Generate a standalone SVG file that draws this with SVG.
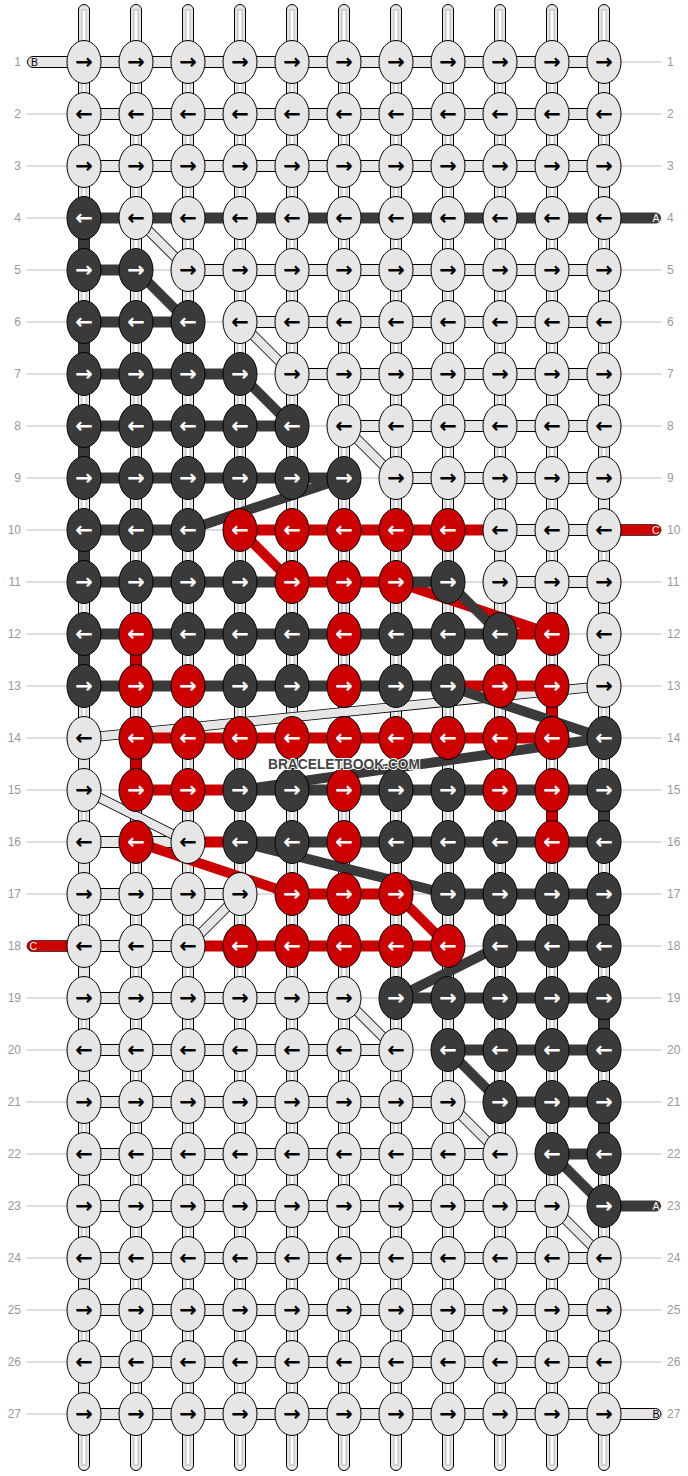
<svg xmlns="http://www.w3.org/2000/svg" width="688" height="1476" viewBox="0 0 688 1476">
<style>
.g{stroke:#bbb;stroke-width:1;fill:none}
.w{fill:#e6e6e6;stroke:#000;stroke-width:1}
.wi{fill:#fff;stroke:#aaa;stroke-width:0.8}
.bl{fill:#e6e6e6;stroke:#000;stroke-width:1}
.bd{fill:#3a3a3a}
.br{fill:#cc0000}
.dlo{stroke:#000;stroke-width:10;fill:none}
.dli{stroke:#e6e6e6;stroke-width:8.4;fill:none}
.dd{stroke:#3a3a3a;stroke-width:10;fill:none}
.dr{stroke:#cc0000;stroke-width:10;fill:none}
.kl{fill:#e6e6e6;stroke:#000;stroke-width:1}
.kd{fill:#3a3a3a;stroke:#000;stroke-width:1}
.kr{fill:#cc0000;stroke:#000;stroke-width:1}
.ab,.aw{font-family:"DejaVu Sans",sans-serif;font-size:21px;font-weight:bold;text-anchor:middle;dominant-baseline:central}
.ab{fill:#000}.aw{fill:#fff}
.nl,.nr{font-family:"Liberation Sans",Arial,sans-serif;font-size:12px;fill:#999}
.nl{text-anchor:end}.nr{text-anchor:start}
.lt{font-family:"Liberation Sans",Arial,sans-serif;font-size:10.5px}
.wm{font-family:"Liberation Sans",Arial,sans-serif;font-size:14.5px;font-weight:bold;fill:#444;stroke:#fff;stroke-width:2;paint-order:stroke;text-anchor:middle}
</style>
<defs>
<g id="Lr"><ellipse rx="17" ry="21.5" class="kl"/><text class="ab">→</text></g>
<g id="Ll"><ellipse rx="17" ry="21.5" class="kl"/><text class="ab">←</text></g>
<g id="Dr"><ellipse rx="17" ry="21.5" class="kd"/><text class="aw">→</text></g>
<g id="Dl"><ellipse rx="17" ry="21.5" class="kd"/><text class="aw">←</text></g>
<g id="Rr"><ellipse rx="17" ry="21.5" class="kr"/><text class="aw">→</text></g>
<g id="Rl"><ellipse rx="17" ry="21.5" class="kr"/><text class="aw">←</text></g>
</defs>
<rect width="688" height="1476" fill="#fff"/>
<g id="guides">
<path class="g" d="M26 62H662M26 114H662M26 166H662M26 218H662M26 270H662M26 322H662M26 374H662M26 426H662M26 478H662M26 530H662M26 582H662M26 634H662M26 686H662M26 738H662M26 790H662M26 842H662M26 894H662M26 946H662M26 998H662M26 1050H662M26 1102H662M26 1154H662M26 1206H662M26 1258H662M26 1310H662M26 1362H662M26 1414H662"/>
</g>
<g id="warps">
<rect class="w" x="78.5" y="4.5" width="11" height="1466" rx="5.5"/><rect class="wi" x="82" y="10" width="4" height="1455"/>
<rect class="w" x="130.5" y="4.5" width="11" height="1466" rx="5.5"/><rect class="wi" x="134" y="10" width="4" height="1455"/>
<rect class="w" x="182.5" y="4.5" width="11" height="1466" rx="5.5"/><rect class="wi" x="186" y="10" width="4" height="1455"/>
<rect class="w" x="234.5" y="4.5" width="11" height="1466" rx="5.5"/><rect class="wi" x="238" y="10" width="4" height="1455"/>
<rect class="w" x="286.5" y="4.5" width="11" height="1466" rx="5.5"/><rect class="wi" x="290" y="10" width="4" height="1455"/>
<rect class="w" x="338.5" y="4.5" width="11" height="1466" rx="5.5"/><rect class="wi" x="342" y="10" width="4" height="1455"/>
<rect class="w" x="390.5" y="4.5" width="11" height="1466" rx="5.5"/><rect class="wi" x="394" y="10" width="4" height="1455"/>
<rect class="w" x="442.5" y="4.5" width="11" height="1466" rx="5.5"/><rect class="wi" x="446" y="10" width="4" height="1455"/>
<rect class="w" x="494.5" y="4.5" width="11" height="1466" rx="5.5"/><rect class="wi" x="498" y="10" width="4" height="1455"/>
<rect class="w" x="546.5" y="4.5" width="11" height="1466" rx="5.5"/><rect class="wi" x="550" y="10" width="4" height="1455"/>
<rect class="w" x="598.5" y="4.5" width="11" height="1466" rx="5.5"/><rect class="wi" x="602" y="10" width="4" height="1455"/>
</g>
<g id="connectors">
<rect class="bl" x="27.5" y="56.5" width="50" height="11" rx="5.5"/>
<rect class="br" x="27" y="940.5" width="50" height="11" rx="5.5" stroke="#000" stroke-width="0.6"/>
<rect class="bd" x="610" y="212.5" width="51" height="11" rx="5.5"/>
<rect class="br" x="610" y="524.5" width="51" height="11" rx="5.5" stroke="#000" stroke-width="0.6"/>
<rect class="bd" x="610" y="1200.5" width="51" height="11" rx="5.5"/>
<rect class="bl" x="610" y="1408.5" width="51" height="11" rx="5.5"/>
<rect class="bl" x="84" y="56.5" width="520" height="11"/>
<rect class="bl" x="84" y="108.5" width="520" height="11"/>
<rect class="bl" x="84" y="160.5" width="520" height="11"/>
<rect class="bl" x="188" y="264.5" width="416" height="11"/>
<rect class="bl" x="240" y="316.5" width="364" height="11"/>
<rect class="bl" x="292" y="368.5" width="312" height="11"/>
<rect class="bl" x="344" y="420.5" width="260" height="11"/>
<rect class="bl" x="396" y="472.5" width="208" height="11"/>
<rect class="bl" x="500" y="524.5" width="104" height="11"/>
<rect class="bl" x="500" y="576.5" width="104" height="11"/>
<rect class="bl" x="84" y="836.5" width="104" height="11"/>
<rect class="bl" x="84" y="888.5" width="156" height="11"/>
<rect class="bl" x="84" y="940.5" width="104" height="11"/>
<rect class="bl" x="84" y="992.5" width="260" height="11"/>
<rect class="bl" x="84" y="1044.5" width="312" height="11"/>
<rect class="bl" x="84" y="1096.5" width="364" height="11"/>
<rect class="bl" x="84" y="1148.5" width="416" height="11"/>
<rect class="bl" x="84" y="1200.5" width="468" height="11"/>
<rect class="bl" x="84" y="1252.5" width="520" height="11"/>
<rect class="bl" x="84" y="1304.5" width="520" height="11"/>
<rect class="bl" x="84" y="1356.5" width="520" height="11"/>
<rect class="bl" x="84" y="1408.5" width="520" height="11"/>
<rect class="bl" x="598.5" y="62" width="11" height="52"/>
<rect class="bl" x="598.5" y="166" width="11" height="52"/>
<rect class="bl" x="598.5" y="270" width="11" height="52"/>
<rect class="bl" x="598.5" y="374" width="11" height="52"/>
<rect class="bl" x="598.5" y="478" width="11" height="52"/>
<rect class="bl" x="598.5" y="582" width="11" height="104"/>
<rect class="bl" x="598.5" y="1310" width="11" height="52"/>
<rect class="bl" x="494.5" y="530" width="11" height="52"/>
<rect class="bl" x="78.5" y="114" width="11" height="52"/>
<rect class="bl" x="78.5" y="738" width="11" height="52"/>
<rect class="bl" x="78.5" y="842" width="11" height="52"/>
<rect class="bl" x="78.5" y="946" width="11" height="52"/>
<rect class="bl" x="78.5" y="1050" width="11" height="52"/>
<rect class="bl" x="78.5" y="1154" width="11" height="52"/>
<rect class="bl" x="78.5" y="1258" width="11" height="52"/>
<rect class="bl" x="78.5" y="1362" width="11" height="52"/>
<path class="dlo" d="M136 218L188 270M240 322L292 374M344 426L396 478M604 686L84 738M84 790L188 842M240 894L188 946M344 998L396 1050M448 1102L500 1154M552 1206L604 1258"/>
<path class="dli" d="M136 218L188 270M240 322L292 374M344 426L396 478M604 686L84 738M84 790L188 842M240 894L188 946M344 998L396 1050M448 1102L500 1154M552 1206L604 1258"/>
<rect class="br" x="240" y="524.5" width="260" height="11"/>
<rect class="br" x="292" y="576.5" width="104" height="11"/>
<rect class="br" x="500" y="628.5" width="52" height="11"/>
<rect class="br" x="448" y="680.5" width="104" height="11"/>
<rect class="br" x="136" y="732.5" width="416" height="11"/>
<rect class="br" x="136" y="784.5" width="104" height="11"/>
<rect class="br" x="188" y="836.5" width="52" height="11"/>
<rect class="br" x="292" y="888.5" width="104" height="11"/>
<rect class="br" x="188" y="940.5" width="260" height="11"/>
<rect class="br" x="130.5" y="634" width="11" height="52"/>
<rect class="br" x="130.5" y="738" width="11" height="52"/>
<rect class="br" x="546.5" y="686" width="11" height="52"/>
<rect class="br" x="546.5" y="790" width="11" height="52"/>
<path class="dr" d="M240 530L292 582M396 582L552 634M136 842L292 894M396 894L448 946"/>
<rect class="bd" x="84" y="212.5" width="520" height="11"/>
<rect class="bd" x="84" y="264.5" width="52" height="11"/>
<rect class="bd" x="84" y="316.5" width="104" height="11"/>
<rect class="bd" x="84" y="368.5" width="156" height="11"/>
<rect class="bd" x="84" y="420.5" width="208" height="11"/>
<rect class="bd" x="84" y="472.5" width="260" height="11"/>
<rect class="bd" x="84" y="524.5" width="104" height="11"/>
<rect class="bd" x="84" y="576.5" width="208" height="11"/>
<rect class="bd" x="396" y="576.5" width="52" height="11"/>
<rect class="bd" x="84" y="628.5" width="416" height="11"/>
<rect class="bd" x="84" y="680.5" width="364" height="11"/>
<rect class="bd" x="240" y="784.5" width="364" height="11"/>
<rect class="bd" x="240" y="836.5" width="364" height="11"/>
<rect class="bd" x="448" y="888.5" width="156" height="11"/>
<rect class="bd" x="500" y="940.5" width="104" height="11"/>
<rect class="bd" x="396" y="992.5" width="208" height="11"/>
<rect class="bd" x="448" y="1044.5" width="156" height="11"/>
<rect class="bd" x="500" y="1096.5" width="104" height="11"/>
<rect class="bd" x="552" y="1148.5" width="52" height="11"/>
<rect class="bd" x="78.5" y="218" width="11" height="52"/>
<rect class="bd" x="78.5" y="322" width="11" height="52"/>
<rect class="bd" x="78.5" y="426" width="11" height="52"/>
<rect class="bd" x="78.5" y="530" width="11" height="52"/>
<rect class="bd" x="78.5" y="634" width="11" height="52"/>
<rect class="bd" x="598.5" y="790" width="11" height="52"/>
<rect class="bd" x="598.5" y="894" width="11" height="52"/>
<rect class="bd" x="598.5" y="998" width="11" height="52"/>
<rect class="bd" x="598.5" y="1102" width="11" height="52"/>
<path class="dd" d="M136 270L188 322M240 374L292 426M344 478L188 530M448 582L500 634M448 686L604 738M604 738L240 790M240 842L448 894M500 946L396 998M448 1050L500 1102M552 1154L604 1206"/>
</g>
<g id="knots">
<g id="row1">
<use id="k1-1" href="#Lr" x="84" y="62"/><use id="k1-2" href="#Lr" x="136" y="62"/><use id="k1-3" href="#Lr" x="188" y="62"/><use id="k1-4" href="#Lr" x="240" y="62"/><use id="k1-5" href="#Lr" x="292" y="62"/><use id="k1-6" href="#Lr" x="344" y="62"/><use id="k1-7" href="#Lr" x="396" y="62"/><use id="k1-8" href="#Lr" x="448" y="62"/><use id="k1-9" href="#Lr" x="500" y="62"/><use id="k1-10" href="#Lr" x="552" y="62"/><use id="k1-11" href="#Lr" x="604" y="62"/>
</g>
<g id="row2">
<use id="k2-1" href="#Ll" x="84" y="114"/><use id="k2-2" href="#Ll" x="136" y="114"/><use id="k2-3" href="#Ll" x="188" y="114"/><use id="k2-4" href="#Ll" x="240" y="114"/><use id="k2-5" href="#Ll" x="292" y="114"/><use id="k2-6" href="#Ll" x="344" y="114"/><use id="k2-7" href="#Ll" x="396" y="114"/><use id="k2-8" href="#Ll" x="448" y="114"/><use id="k2-9" href="#Ll" x="500" y="114"/><use id="k2-10" href="#Ll" x="552" y="114"/><use id="k2-11" href="#Ll" x="604" y="114"/>
</g>
<g id="row3">
<use id="k3-1" href="#Lr" x="84" y="166"/><use id="k3-2" href="#Lr" x="136" y="166"/><use id="k3-3" href="#Lr" x="188" y="166"/><use id="k3-4" href="#Lr" x="240" y="166"/><use id="k3-5" href="#Lr" x="292" y="166"/><use id="k3-6" href="#Lr" x="344" y="166"/><use id="k3-7" href="#Lr" x="396" y="166"/><use id="k3-8" href="#Lr" x="448" y="166"/><use id="k3-9" href="#Lr" x="500" y="166"/><use id="k3-10" href="#Lr" x="552" y="166"/><use id="k3-11" href="#Lr" x="604" y="166"/>
</g>
<g id="row4">
<use id="k4-1" href="#Dl" x="84" y="218"/><use id="k4-2" href="#Ll" x="136" y="218"/><use id="k4-3" href="#Ll" x="188" y="218"/><use id="k4-4" href="#Ll" x="240" y="218"/><use id="k4-5" href="#Ll" x="292" y="218"/><use id="k4-6" href="#Ll" x="344" y="218"/><use id="k4-7" href="#Ll" x="396" y="218"/><use id="k4-8" href="#Ll" x="448" y="218"/><use id="k4-9" href="#Ll" x="500" y="218"/><use id="k4-10" href="#Ll" x="552" y="218"/><use id="k4-11" href="#Ll" x="604" y="218"/>
</g>
<g id="row5">
<use id="k5-1" href="#Dr" x="84" y="270"/><use id="k5-2" href="#Dr" x="136" y="270"/><use id="k5-3" href="#Lr" x="188" y="270"/><use id="k5-4" href="#Lr" x="240" y="270"/><use id="k5-5" href="#Lr" x="292" y="270"/><use id="k5-6" href="#Lr" x="344" y="270"/><use id="k5-7" href="#Lr" x="396" y="270"/><use id="k5-8" href="#Lr" x="448" y="270"/><use id="k5-9" href="#Lr" x="500" y="270"/><use id="k5-10" href="#Lr" x="552" y="270"/><use id="k5-11" href="#Lr" x="604" y="270"/>
</g>
<g id="row6">
<use id="k6-1" href="#Dl" x="84" y="322"/><use id="k6-2" href="#Dl" x="136" y="322"/><use id="k6-3" href="#Dl" x="188" y="322"/><use id="k6-4" href="#Ll" x="240" y="322"/><use id="k6-5" href="#Ll" x="292" y="322"/><use id="k6-6" href="#Ll" x="344" y="322"/><use id="k6-7" href="#Ll" x="396" y="322"/><use id="k6-8" href="#Ll" x="448" y="322"/><use id="k6-9" href="#Ll" x="500" y="322"/><use id="k6-10" href="#Ll" x="552" y="322"/><use id="k6-11" href="#Ll" x="604" y="322"/>
</g>
<g id="row7">
<use id="k7-1" href="#Dr" x="84" y="374"/><use id="k7-2" href="#Dr" x="136" y="374"/><use id="k7-3" href="#Dr" x="188" y="374"/><use id="k7-4" href="#Dr" x="240" y="374"/><use id="k7-5" href="#Lr" x="292" y="374"/><use id="k7-6" href="#Lr" x="344" y="374"/><use id="k7-7" href="#Lr" x="396" y="374"/><use id="k7-8" href="#Lr" x="448" y="374"/><use id="k7-9" href="#Lr" x="500" y="374"/><use id="k7-10" href="#Lr" x="552" y="374"/><use id="k7-11" href="#Lr" x="604" y="374"/>
</g>
<g id="row8">
<use id="k8-1" href="#Dl" x="84" y="426"/><use id="k8-2" href="#Dl" x="136" y="426"/><use id="k8-3" href="#Dl" x="188" y="426"/><use id="k8-4" href="#Dl" x="240" y="426"/><use id="k8-5" href="#Dl" x="292" y="426"/><use id="k8-6" href="#Ll" x="344" y="426"/><use id="k8-7" href="#Ll" x="396" y="426"/><use id="k8-8" href="#Ll" x="448" y="426"/><use id="k8-9" href="#Ll" x="500" y="426"/><use id="k8-10" href="#Ll" x="552" y="426"/><use id="k8-11" href="#Ll" x="604" y="426"/>
</g>
<g id="row9">
<use id="k9-1" href="#Dr" x="84" y="478"/><use id="k9-2" href="#Dr" x="136" y="478"/><use id="k9-3" href="#Dr" x="188" y="478"/><use id="k9-4" href="#Dr" x="240" y="478"/><use id="k9-5" href="#Dr" x="292" y="478"/><use id="k9-6" href="#Dr" x="344" y="478"/><use id="k9-7" href="#Lr" x="396" y="478"/><use id="k9-8" href="#Lr" x="448" y="478"/><use id="k9-9" href="#Lr" x="500" y="478"/><use id="k9-10" href="#Lr" x="552" y="478"/><use id="k9-11" href="#Lr" x="604" y="478"/>
</g>
<g id="row10">
<use id="k10-1" href="#Dl" x="84" y="530"/><use id="k10-2" href="#Dl" x="136" y="530"/><use id="k10-3" href="#Dl" x="188" y="530"/><use id="k10-4" href="#Rl" x="240" y="530"/><use id="k10-5" href="#Rl" x="292" y="530"/><use id="k10-6" href="#Rl" x="344" y="530"/><use id="k10-7" href="#Rl" x="396" y="530"/><use id="k10-8" href="#Rl" x="448" y="530"/><use id="k10-9" href="#Ll" x="500" y="530"/><use id="k10-10" href="#Ll" x="552" y="530"/><use id="k10-11" href="#Ll" x="604" y="530"/>
</g>
<g id="row11">
<use id="k11-1" href="#Dr" x="84" y="582"/><use id="k11-2" href="#Dr" x="136" y="582"/><use id="k11-3" href="#Dr" x="188" y="582"/><use id="k11-4" href="#Dr" x="240" y="582"/><use id="k11-5" href="#Rr" x="292" y="582"/><use id="k11-6" href="#Rr" x="344" y="582"/><use id="k11-7" href="#Rr" x="396" y="582"/><use id="k11-8" href="#Dr" x="448" y="582"/><use id="k11-9" href="#Lr" x="500" y="582"/><use id="k11-10" href="#Lr" x="552" y="582"/><use id="k11-11" href="#Lr" x="604" y="582"/>
</g>
<g id="row12">
<use id="k12-1" href="#Dl" x="84" y="634"/><use id="k12-2" href="#Rl" x="136" y="634"/><use id="k12-3" href="#Dl" x="188" y="634"/><use id="k12-4" href="#Dl" x="240" y="634"/><use id="k12-5" href="#Dl" x="292" y="634"/><use id="k12-6" href="#Rl" x="344" y="634"/><use id="k12-7" href="#Dl" x="396" y="634"/><use id="k12-8" href="#Dl" x="448" y="634"/><use id="k12-9" href="#Dl" x="500" y="634"/><use id="k12-10" href="#Rl" x="552" y="634"/><use id="k12-11" href="#Ll" x="604" y="634"/>
</g>
<g id="row13">
<use id="k13-1" href="#Dr" x="84" y="686"/><use id="k13-2" href="#Rr" x="136" y="686"/><use id="k13-3" href="#Rr" x="188" y="686"/><use id="k13-4" href="#Dr" x="240" y="686"/><use id="k13-5" href="#Dr" x="292" y="686"/><use id="k13-6" href="#Rr" x="344" y="686"/><use id="k13-7" href="#Dr" x="396" y="686"/><use id="k13-8" href="#Dr" x="448" y="686"/><use id="k13-9" href="#Rr" x="500" y="686"/><use id="k13-10" href="#Rr" x="552" y="686"/><use id="k13-11" href="#Lr" x="604" y="686"/>
</g>
<g id="row14">
<use id="k14-1" href="#Ll" x="84" y="738"/><use id="k14-2" href="#Rl" x="136" y="738"/><use id="k14-3" href="#Rl" x="188" y="738"/><use id="k14-4" href="#Rl" x="240" y="738"/><use id="k14-5" href="#Rl" x="292" y="738"/><use id="k14-6" href="#Rl" x="344" y="738"/><use id="k14-7" href="#Rl" x="396" y="738"/><use id="k14-8" href="#Rl" x="448" y="738"/><use id="k14-9" href="#Rl" x="500" y="738"/><use id="k14-10" href="#Rl" x="552" y="738"/><use id="k14-11" href="#Dl" x="604" y="738"/>
</g>
<g id="row15">
<use id="k15-1" href="#Lr" x="84" y="790"/><use id="k15-2" href="#Rr" x="136" y="790"/><use id="k15-3" href="#Rr" x="188" y="790"/><use id="k15-4" href="#Dr" x="240" y="790"/><use id="k15-5" href="#Dr" x="292" y="790"/><use id="k15-6" href="#Rr" x="344" y="790"/><use id="k15-7" href="#Dr" x="396" y="790"/><use id="k15-8" href="#Dr" x="448" y="790"/><use id="k15-9" href="#Rr" x="500" y="790"/><use id="k15-10" href="#Rr" x="552" y="790"/><use id="k15-11" href="#Dr" x="604" y="790"/>
</g>
<g id="row16">
<use id="k16-1" href="#Ll" x="84" y="842"/><use id="k16-2" href="#Rl" x="136" y="842"/><use id="k16-3" href="#Ll" x="188" y="842"/><use id="k16-4" href="#Dl" x="240" y="842"/><use id="k16-5" href="#Dl" x="292" y="842"/><use id="k16-6" href="#Rl" x="344" y="842"/><use id="k16-7" href="#Dl" x="396" y="842"/><use id="k16-8" href="#Dl" x="448" y="842"/><use id="k16-9" href="#Dl" x="500" y="842"/><use id="k16-10" href="#Rl" x="552" y="842"/><use id="k16-11" href="#Dl" x="604" y="842"/>
</g>
<g id="row17">
<use id="k17-1" href="#Lr" x="84" y="894"/><use id="k17-2" href="#Lr" x="136" y="894"/><use id="k17-3" href="#Lr" x="188" y="894"/><use id="k17-4" href="#Lr" x="240" y="894"/><use id="k17-5" href="#Rr" x="292" y="894"/><use id="k17-6" href="#Rr" x="344" y="894"/><use id="k17-7" href="#Rr" x="396" y="894"/><use id="k17-8" href="#Dr" x="448" y="894"/><use id="k17-9" href="#Dr" x="500" y="894"/><use id="k17-10" href="#Dr" x="552" y="894"/><use id="k17-11" href="#Dr" x="604" y="894"/>
</g>
<g id="row18">
<use id="k18-1" href="#Ll" x="84" y="946"/><use id="k18-2" href="#Ll" x="136" y="946"/><use id="k18-3" href="#Ll" x="188" y="946"/><use id="k18-4" href="#Rl" x="240" y="946"/><use id="k18-5" href="#Rl" x="292" y="946"/><use id="k18-6" href="#Rl" x="344" y="946"/><use id="k18-7" href="#Rl" x="396" y="946"/><use id="k18-8" href="#Rl" x="448" y="946"/><use id="k18-9" href="#Dl" x="500" y="946"/><use id="k18-10" href="#Dl" x="552" y="946"/><use id="k18-11" href="#Dl" x="604" y="946"/>
</g>
<g id="row19">
<use id="k19-1" href="#Lr" x="84" y="998"/><use id="k19-2" href="#Lr" x="136" y="998"/><use id="k19-3" href="#Lr" x="188" y="998"/><use id="k19-4" href="#Lr" x="240" y="998"/><use id="k19-5" href="#Lr" x="292" y="998"/><use id="k19-6" href="#Lr" x="344" y="998"/><use id="k19-7" href="#Dr" x="396" y="998"/><use id="k19-8" href="#Dr" x="448" y="998"/><use id="k19-9" href="#Dr" x="500" y="998"/><use id="k19-10" href="#Dr" x="552" y="998"/><use id="k19-11" href="#Dr" x="604" y="998"/>
</g>
<g id="row20">
<use id="k20-1" href="#Ll" x="84" y="1050"/><use id="k20-2" href="#Ll" x="136" y="1050"/><use id="k20-3" href="#Ll" x="188" y="1050"/><use id="k20-4" href="#Ll" x="240" y="1050"/><use id="k20-5" href="#Ll" x="292" y="1050"/><use id="k20-6" href="#Ll" x="344" y="1050"/><use id="k20-7" href="#Ll" x="396" y="1050"/><use id="k20-8" href="#Dl" x="448" y="1050"/><use id="k20-9" href="#Dl" x="500" y="1050"/><use id="k20-10" href="#Dl" x="552" y="1050"/><use id="k20-11" href="#Dl" x="604" y="1050"/>
</g>
<g id="row21">
<use id="k21-1" href="#Lr" x="84" y="1102"/><use id="k21-2" href="#Lr" x="136" y="1102"/><use id="k21-3" href="#Lr" x="188" y="1102"/><use id="k21-4" href="#Lr" x="240" y="1102"/><use id="k21-5" href="#Lr" x="292" y="1102"/><use id="k21-6" href="#Lr" x="344" y="1102"/><use id="k21-7" href="#Lr" x="396" y="1102"/><use id="k21-8" href="#Lr" x="448" y="1102"/><use id="k21-9" href="#Dr" x="500" y="1102"/><use id="k21-10" href="#Dr" x="552" y="1102"/><use id="k21-11" href="#Dr" x="604" y="1102"/>
</g>
<g id="row22">
<use id="k22-1" href="#Ll" x="84" y="1154"/><use id="k22-2" href="#Ll" x="136" y="1154"/><use id="k22-3" href="#Ll" x="188" y="1154"/><use id="k22-4" href="#Ll" x="240" y="1154"/><use id="k22-5" href="#Ll" x="292" y="1154"/><use id="k22-6" href="#Ll" x="344" y="1154"/><use id="k22-7" href="#Ll" x="396" y="1154"/><use id="k22-8" href="#Ll" x="448" y="1154"/><use id="k22-9" href="#Ll" x="500" y="1154"/><use id="k22-10" href="#Dl" x="552" y="1154"/><use id="k22-11" href="#Dl" x="604" y="1154"/>
</g>
<g id="row23">
<use id="k23-1" href="#Lr" x="84" y="1206"/><use id="k23-2" href="#Lr" x="136" y="1206"/><use id="k23-3" href="#Lr" x="188" y="1206"/><use id="k23-4" href="#Lr" x="240" y="1206"/><use id="k23-5" href="#Lr" x="292" y="1206"/><use id="k23-6" href="#Lr" x="344" y="1206"/><use id="k23-7" href="#Lr" x="396" y="1206"/><use id="k23-8" href="#Lr" x="448" y="1206"/><use id="k23-9" href="#Lr" x="500" y="1206"/><use id="k23-10" href="#Lr" x="552" y="1206"/><use id="k23-11" href="#Dr" x="604" y="1206"/>
</g>
<g id="row24">
<use id="k24-1" href="#Ll" x="84" y="1258"/><use id="k24-2" href="#Ll" x="136" y="1258"/><use id="k24-3" href="#Ll" x="188" y="1258"/><use id="k24-4" href="#Ll" x="240" y="1258"/><use id="k24-5" href="#Ll" x="292" y="1258"/><use id="k24-6" href="#Ll" x="344" y="1258"/><use id="k24-7" href="#Ll" x="396" y="1258"/><use id="k24-8" href="#Ll" x="448" y="1258"/><use id="k24-9" href="#Ll" x="500" y="1258"/><use id="k24-10" href="#Ll" x="552" y="1258"/><use id="k24-11" href="#Ll" x="604" y="1258"/>
</g>
<g id="row25">
<use id="k25-1" href="#Lr" x="84" y="1310"/><use id="k25-2" href="#Lr" x="136" y="1310"/><use id="k25-3" href="#Lr" x="188" y="1310"/><use id="k25-4" href="#Lr" x="240" y="1310"/><use id="k25-5" href="#Lr" x="292" y="1310"/><use id="k25-6" href="#Lr" x="344" y="1310"/><use id="k25-7" href="#Lr" x="396" y="1310"/><use id="k25-8" href="#Lr" x="448" y="1310"/><use id="k25-9" href="#Lr" x="500" y="1310"/><use id="k25-10" href="#Lr" x="552" y="1310"/><use id="k25-11" href="#Lr" x="604" y="1310"/>
</g>
<g id="row26">
<use id="k26-1" href="#Ll" x="84" y="1362"/><use id="k26-2" href="#Ll" x="136" y="1362"/><use id="k26-3" href="#Ll" x="188" y="1362"/><use id="k26-4" href="#Ll" x="240" y="1362"/><use id="k26-5" href="#Ll" x="292" y="1362"/><use id="k26-6" href="#Ll" x="344" y="1362"/><use id="k26-7" href="#Ll" x="396" y="1362"/><use id="k26-8" href="#Ll" x="448" y="1362"/><use id="k26-9" href="#Ll" x="500" y="1362"/><use id="k26-10" href="#Ll" x="552" y="1362"/><use id="k26-11" href="#Ll" x="604" y="1362"/>
</g>
<g id="row27">
<use id="k27-1" href="#Lr" x="84" y="1414"/><use id="k27-2" href="#Lr" x="136" y="1414"/><use id="k27-3" href="#Lr" x="188" y="1414"/><use id="k27-4" href="#Lr" x="240" y="1414"/><use id="k27-5" href="#Lr" x="292" y="1414"/><use id="k27-6" href="#Lr" x="344" y="1414"/><use id="k27-7" href="#Lr" x="396" y="1414"/><use id="k27-8" href="#Lr" x="448" y="1414"/><use id="k27-9" href="#Lr" x="500" y="1414"/><use id="k27-10" href="#Lr" x="552" y="1414"/><use id="k27-11" href="#Lr" x="604" y="1414"/>
</g>
</g>
<g id="string-labels">
<text class="lt" x="31" y="66" fill="#000">B</text>
<text class="lt" x="29.5" y="950" fill="#fff">C</text>
<text class="lt" x="659.5" y="222" fill="#fff" text-anchor="end">A</text>
<text class="lt" x="659.5" y="534" fill="#fff" text-anchor="end">C</text>
<text class="lt" x="659.5" y="1210" fill="#fff" text-anchor="end">A</text>
<text class="lt" x="659.5" y="1418" fill="#000" text-anchor="end">B</text>
</g>
<g id="row-numbers">
<text class="nl" x="21" y="66.3">1</text><text class="nl" x="21" y="118.3">2</text><text class="nl" x="21" y="170.3">3</text><text class="nl" x="21" y="222.3">4</text><text class="nl" x="21" y="274.3">5</text><text class="nl" x="21" y="326.3">6</text><text class="nl" x="21" y="378.3">7</text><text class="nl" x="21" y="430.3">8</text><text class="nl" x="21" y="482.3">9</text><text class="nl" x="21" y="534.3">10</text><text class="nl" x="21" y="586.3">11</text><text class="nl" x="21" y="638.3">12</text><text class="nl" x="21" y="690.3">13</text><text class="nl" x="21" y="742.3">14</text><text class="nl" x="21" y="794.3">15</text><text class="nl" x="21" y="846.3">16</text><text class="nl" x="21" y="898.3">17</text><text class="nl" x="21" y="950.3">18</text><text class="nl" x="21" y="1002.3">19</text><text class="nl" x="21" y="1054.3">20</text><text class="nl" x="21" y="1106.3">21</text><text class="nl" x="21" y="1158.3">22</text><text class="nl" x="21" y="1210.3">23</text><text class="nl" x="21" y="1262.3">24</text><text class="nl" x="21" y="1314.3">25</text><text class="nl" x="21" y="1366.3">26</text><text class="nl" x="21" y="1418.3">27</text>
<text class="nr" x="667" y="66.3">1</text><text class="nr" x="667" y="118.3">2</text><text class="nr" x="667" y="170.3">3</text><text class="nr" x="667" y="222.3">4</text><text class="nr" x="667" y="274.3">5</text><text class="nr" x="667" y="326.3">6</text><text class="nr" x="667" y="378.3">7</text><text class="nr" x="667" y="430.3">8</text><text class="nr" x="667" y="482.3">9</text><text class="nr" x="667" y="534.3">10</text><text class="nr" x="667" y="586.3">11</text><text class="nr" x="667" y="638.3">12</text><text class="nr" x="667" y="690.3">13</text><text class="nr" x="667" y="742.3">14</text><text class="nr" x="667" y="794.3">15</text><text class="nr" x="667" y="846.3">16</text><text class="nr" x="667" y="898.3">17</text><text class="nr" x="667" y="950.3">18</text><text class="nr" x="667" y="1002.3">19</text><text class="nr" x="667" y="1054.3">20</text><text class="nr" x="667" y="1106.3">21</text><text class="nr" x="667" y="1158.3">22</text><text class="nr" x="667" y="1210.3">23</text><text class="nr" x="667" y="1262.3">24</text><text class="nr" x="667" y="1314.3">25</text><text class="nr" x="667" y="1366.3">26</text><text class="nr" x="667" y="1418.3">27</text>
</g>
<g id="watermark">
<text class="wm" x="344" y="768.5" textLength="152" lengthAdjust="spacingAndGlyphs">BRACELETBOOK.COM</text>
</g>
</svg>
